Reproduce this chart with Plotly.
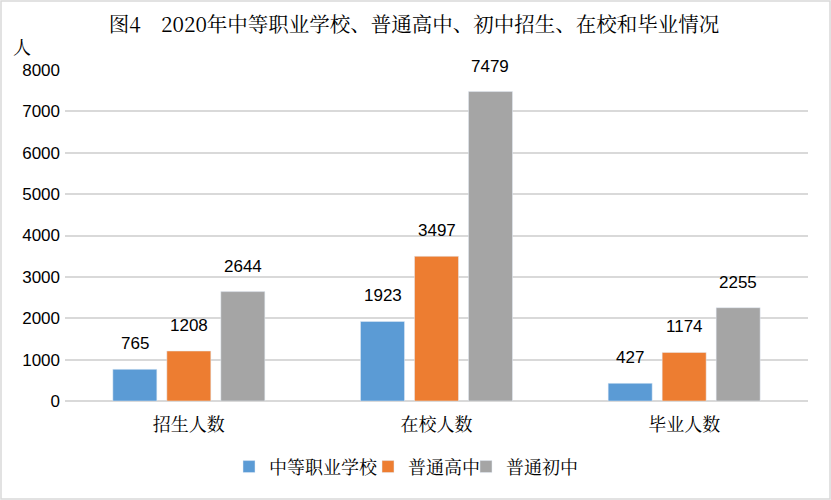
import plotly.graph_objects as go

categories = ['招生人数', '在校人数', '毕业人数']
series_names = ['中等职业学校', '普通高中', '普通初中']
vocational = [765, 1923, 427]
senior_high = [1208, 3497, 1174]
junior_high = [2644, 7479, 2255]
y_ticks = [0, 1000, 2000, 3000, 4000, 5000, 6000, 7000, 8000]

colors = ['#5B9BD5', '#ED7D31', '#A5A5A5']
cjk = 'Noto Serif CJK SC, Noto Sans CJK SC, serif'
num_font = 'Liberation Sans, Arial, sans-serif'

W, H = 831, 500
margin = dict(l=65, r=23, t=70, b=99)
bargap = 0.346
bargroupgap = 0.185
plot_w = W - margin['l'] - margin['r']
ph = H - margin['t'] - margin['b']

# one legend per series so the entries sit tight like in Excel
legend_text_x = [271, 410, 508]
legend_keys = ['legend', 'legend2', 'legend3']

fig = go.Figure()
all_series = [vocational, senior_high, junior_high]
for name, vals, col, lg in zip(series_names, all_series, colors, legend_keys):
    fig.add_trace(go.Bar(x=categories, y=vals, name=name, marker_color=col, legend=lg))

# data labels sit a bit above the bars, like the Excel original
slot = plot_w / len(categories) * (1 - bargap) / len(all_series)
for i, vals in enumerate(all_series):
    for cat, v in zip(categories, vals):
        fig.add_annotation(x=cat, y=v, text=str(v), showarrow=False,
                           xshift=(i - 1) * slot, yshift=14, yanchor='bottom',
                           font=dict(family=num_font, size=17, color='#000'))

# unit label above the y axis
fig.add_annotation(xref='paper', yref='paper', x=(22 - margin['l']) / plot_w,
                   y=(H - margin['b'] - 46) / ph, xanchor='center', yanchor='middle',
                   text='人', showarrow=False,
                   font=dict(family=cjk, size=18, color='#000'))

# thin frame around the whole chart
fig.add_shape(type='rect', xref='paper', yref='paper',
              x0=(1 - margin['l']) / plot_w, x1=(W - 1 - margin['l']) / plot_w,
              y0=-(margin['b'] - 1) / ph, y1=(H - margin['b'] - 1) / ph,
              line=dict(color='#D9D9D9', width=1.5))

legends = {}
for lg, tx in zip(legend_keys, legend_text_x):
    legends[lg] = dict(orientation='h', x=(tx - 42 - margin['l']) / plot_w, xanchor='left',
                       y=-0.199, yanchor='middle', bgcolor='rgba(0,0,0,0)',
                       font=dict(family=cjk, size=18, color='#000'))

fig.update_layout(
    width=W, height=H, margin=margin,
    paper_bgcolor='white', plot_bgcolor='white',
    barmode='group', bargap=bargap, bargroupgap=bargroupgap,
    title=dict(text='图4　2020年中等职业学校、普通高中、初中招生、在校和毕业情况',
               x=414 / W, xanchor='center', xref='container', y=1 - 25 / H, yanchor='middle',
               font=dict(family=cjk, size=20.5, color='#000')),
    showlegend=True,
    **legends,
)
fig.update_xaxes(tickfont=dict(family=cjk, size=18, color='#000'), showline=False,
                 ticklabelstandoff=11)
fig.update_yaxes(range=[0, 8000], tickvals=y_ticks, showgrid=True, gridcolor='#D9D9D9',
                 gridwidth=1.5, zeroline=True, zerolinecolor='#D9D9D9', zerolinewidth=1.5,
                 tickfont=dict(family=num_font, size=17, color='#000'), ticklabelstandoff=4)

fig.write_html('out.html', config={'displayModeBar': False},
               post_script="document.body.style.margin='0';")
